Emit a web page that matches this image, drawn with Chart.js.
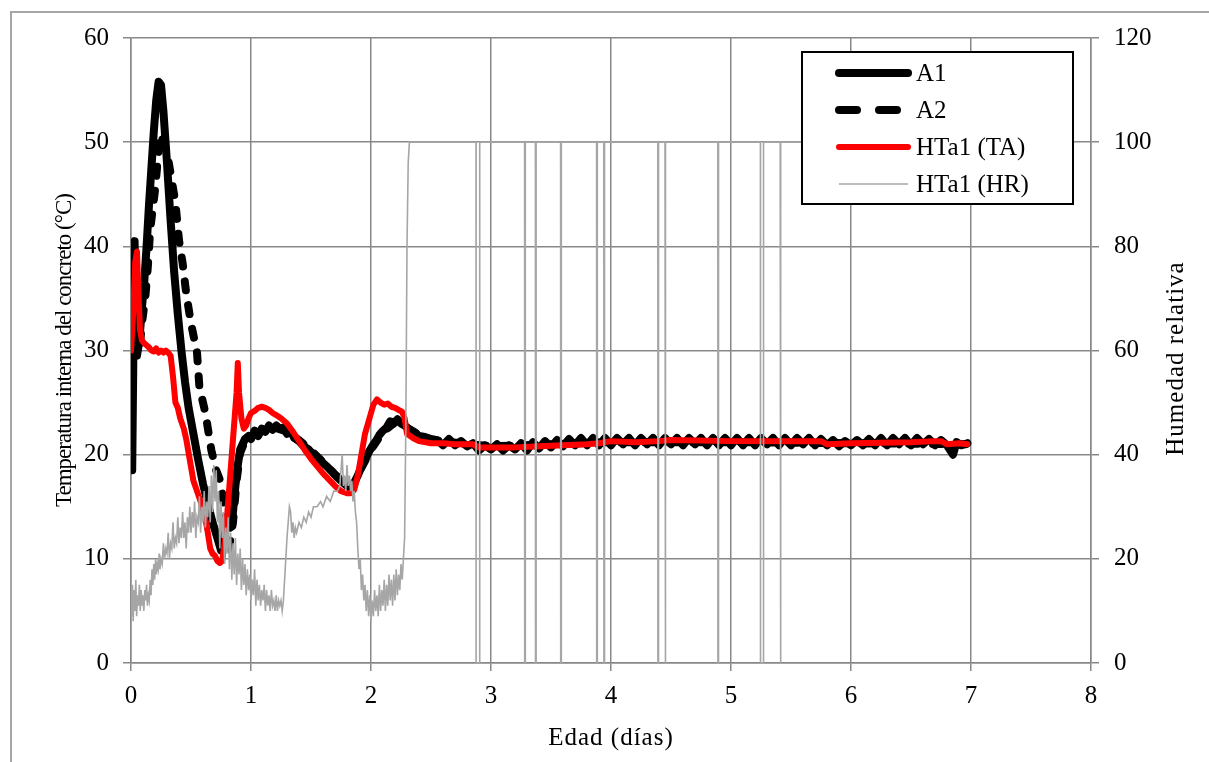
<!DOCTYPE html>
<html>
<head>
<meta charset="utf-8">
<script src="https://cdn.jsdelivr.net/npm/chart.js@4"></script>
<style>
  html, body { margin: 0; padding: 0; background: #fff; }
  #wrap { position: relative; width: 1209px; height: 762px; }
</style>
</head>
<body>
<div id="wrap"><canvas id="chart"></canvas></div>
<script>
// ---- data ----
const xTicks = [0, 1, 2, 3, 4, 5, 6, 7, 8];
const tempTicks = [0, 10, 20, 30, 40, 50, 60];
const hrTicks = [0, 20, 40, 60, 80, 100, 120];

const seriesLabels = ['A1', 'A2', 'HTa1 (TA)', 'HTa1 (HR)'];
const xTitle = 'Edad (días)';
const yTitle = 'Temperatura interna del concreto (°C)';
const y2Title = 'Humedad relativa';

const a1Days = [0.01, 0.02, 0.03, 0.04, 0.05, 0.07, 0.09, 0.11, 0.13, 0.15, 0.17, 0.19, 0.21, 0.23, 0.25, 0.27, 0.30, 0.33, 0.36, 0.39, 0.42, 0.45, 0.48, 0.52, 0.56, 0.60, 0.64, 0.68, 0.72, 0.75, 0.77, 0.79, 0.81, 0.83, 0.85, 0.87, 0.89, 0.91, 0.93, 0.95, 0.98, 1.00, 1.03, 1.06, 1.09, 1.12, 1.15, 1.18, 1.21, 1.24, 1.27, 1.30, 1.33, 1.36, 1.40, 1.44, 1.48, 1.52, 1.56, 1.60, 1.64, 1.68, 1.72, 1.76, 1.80, 1.83, 1.86, 1.89, 1.92, 1.95, 1.98, 2.01, 2.04, 2.07, 2.10, 2.13, 2.16, 2.19, 2.22, 2.25, 2.28, 2.31, 2.34, 2.37, 2.40, 2.45, 2.50,
  2.55, 2.60, 2.65, 2.70, 2.75, 2.80, 2.85, 2.90, 2.95, 3.00, 3.05, 3.10, 3.15, 3.20, 3.25, 3.30, 3.35, 3.40, 3.45, 3.50, 3.55, 3.60, 3.65, 3.70, 3.75, 3.80, 3.85, 3.90, 3.95, 4.00, 4.05, 4.10, 4.15, 4.20, 4.25, 4.30, 4.35, 4.40, 4.45, 4.50, 4.55, 4.60, 4.65, 4.70, 4.75, 4.80, 4.85, 4.90, 4.95, 5.00, 5.05, 5.10, 5.15, 5.20, 5.25, 5.30, 5.35, 5.40, 5.45, 5.50, 5.55, 5.60, 5.65, 5.70, 5.75, 5.80, 5.85, 5.90, 5.95, 6.00, 6.05, 6.10, 6.15, 6.20, 6.25, 6.30, 6.35, 6.40, 6.45, 6.50, 6.55, 6.60, 6.65, 6.70, 6.75, 6.80, 6.85, 6.88, 6.92, 6.97];
const a1Temp = [18.5, 30, 40.5, 32, 29.5, 31, 34, 36.5, 40, 44, 47.5, 51, 54, 55.8, 55.5, 53, 48, 42.5, 37.5, 33.5, 30, 27, 24.5, 22, 19.5, 17.2, 15.3, 13.5, 12, 10.8, 11.5, 13, 14, 13, 14.5, 17, 19, 20.5, 21, 21.5, 21.8, 21.5, 22.3, 21.8, 22.5, 22.2, 22.8, 22.4, 22.8, 22.5, 22.6, 22.0, 22.3, 21.6, 21.3, 20.8, 20.5, 20.0, 19.6, 19.2, 18.8, 18.3, 17.8, 17.4, 17.0, 16.7, 17.3, 18.0, 18.8, 19.5, 20.2, 20.8, 21.3, 21.9, 22.3, 22.6, 23.2, 23.0, 23.4, 23.0, 22.8, 22.5, 22.3, 22.0, 21.8, 21.7, 21.5,
  21.4, 20.9, 21.5, 20.9, 21.3, 20.8, 21.1, 20.4, 20.9, 20.5, 21.0, 20.4, 20.9, 20.5, 21.1, 20.4, 21.2, 20.6, 21.3, 20.7, 21.4, 20.8, 21.5, 20.9, 21.6, 20.9, 21.6, 20.9, 21.6, 20.9, 21.6, 21.0, 21.6, 20.9, 21.6, 21.0, 21.6, 20.9, 21.6, 21.0, 21.6, 20.9, 21.6, 21.0, 21.6, 20.9, 21.6, 20.9, 21.6, 20.9, 21.6, 20.9, 21.6, 20.9, 21.6, 21.0, 21.6, 20.9, 21.6, 20.9, 21.6, 21.0, 21.6, 20.9, 21.5, 20.9, 21.4, 20.8, 21.3, 20.9, 21.4, 20.9, 21.5, 20.9, 21.6, 20.9, 21.6, 21.0, 21.6, 20.9, 21.6, 21.0, 21.5, 20.9, 21.4, 20.9, 20.0, 21.2, 20.9, 21.1];

const a2Days = [0.03, 0.05, 0.07, 0.09, 0.12, 0.14, 0.16, 0.18, 0.20, 0.23, 0.25, 0.27, 0.30, 0.33, 0.37, 0.40, 0.43, 0.46, 0.50, 0.55, 0.57, 0.62, 0.67, 0.71, 0.74, 0.77, 0.80, 0.82, 0.85, 0.88, 0.91, 0.95, 1.00, 1.10, 1.20, 1.30, 1.40, 1.50, 1.60, 1.70, 1.80, 1.85, 1.90, 2.00, 2.10, 2.20, 2.30, 2.40, 2.50, 3.00, 3.50, 4.00, 5.00, 6.00, 6.97];
const a2Temp = [29.5, 30.5, 30, 32.5, 35.2, 38, 41.6, 43.5, 45.4, 49.2, 50.8, 50, 49, 47, 44.2, 40.6, 38.4, 35.5, 32.6, 29.8, 26.5, 24, 20.4, 18.5, 17.6, 15.6, 11.8, 11.3, 13.5, 17.5, 20.2, 21.3, 21.8, 22.4, 22.6, 22.2, 21.4, 20.4, 19.3, 18.1, 17.1, 16.9, 18.3, 20.5, 22.2, 23.1, 22.6, 21.9, 21.4, 20.8, 21.0, 21.2, 21.2, 21.1, 21.0];

const taDays = [0.00, 0.02, 0.035, 0.05, 0.06, 0.075, 0.09, 0.11, 0.13, 0.15, 0.17, 0.19, 0.21, 0.23, 0.25, 0.27, 0.29, 0.31, 0.33, 0.35, 0.37, 0.39, 0.41, 0.44, 0.46, 0.49, 0.52, 0.55, 0.58, 0.61, 0.63, 0.64, 0.66, 0.68, 0.70, 0.72, 0.74, 0.76, 0.78, 0.80, 0.82, 0.84, 0.86, 0.88, 0.89, 0.90, 0.92, 0.94, 0.96, 0.98, 1.00, 1.03, 1.06, 1.09, 1.12, 1.15, 1.18, 1.21, 1.25, 1.30, 1.35, 1.40, 1.45, 1.50, 1.55, 1.60, 1.65, 1.70, 1.75, 1.80, 1.83, 1.86, 1.89, 1.92, 1.95, 1.98, 2.00, 2.02, 2.05, 2.08, 2.11, 2.14, 2.17, 2.20, 2.23, 2.26, 2.28, 2.30, 2.35, 2.40, 2.50, 2.60, 2.70, 2.80, 2.85, 2.90, 3.00, 3.20, 3.40, 3.60, 3.80, 3.90, 4.00, 4.20, 4.40, 4.50, 5.00, 5.60, 5.70, 5.75, 5.80, 6.00, 6.50, 6.70, 6.75, 6.80, 6.90, 6.97];
const taTemp = [30, 34, 38.5, 39.5, 36, 32, 31, 30.7, 30.5, 30.3, 30.0, 29.9, 30.2, 29.8, 30.0, 29.8, 30.0, 29.8, 29.5, 27.5, 25, 24.5, 23.5, 22.5, 21.5, 19.5, 17.5, 16.5, 15.5, 14.2, 13.2, 12.5, 11, 10.5, 10.3, 9.8, 9.6, 9.8, 11.5, 14, 17, 20, 23, 26, 28.8, 26, 23.5, 22.5, 22.8, 23.5, 24.0, 24.2, 24.5, 24.6, 24.5, 24.3, 24.0, 23.8, 23.5, 23.0, 22.2, 21.3, 20.4, 19.6, 18.9, 18.2, 17.6, 17.0, 16.5, 16.3, 16.3, 16.6, 18.0, 20.0, 22.0, 23.2, 24.0, 24.8, 25.3, 25.0, 24.8, 24.9, 24.6, 24.5, 24.3, 24.1, 23.5, 22.0, 21.6, 21.3, 21.1, 21.1, 21.0, 21.0, 21.0, 20.7, 20.7, 20.7, 20.8, 20.9, 21.0, 21.1, 21.3, 21.2, 21.3, 21.4, 21.3, 21.3, 21.3, 21.3, 21.0, 21.1, 21.2, 21.3, 21.3, 21.0, 21.1, 21.0, 21.1];

const hrDays = [0.005, 0.012, 0.018, 0.025, 0.032, 0.04, 0.047, 0.055, 0.062, 0.07, 0.077, 0.085, 0.092, 0.10, 0.107, 0.115, 0.122, 0.13, 0.137, 0.145, 0.152, 0.16, 0.167, 0.175, 0.182, 0.19, 0.197, 0.205, 0.212, 0.22, 0.227, 0.235, 0.242, 0.25,
  0.26, 0.27, 0.28, 0.29, 0.30, 0.31, 0.32, 0.33, 0.34, 0.35, 0.36, 0.37, 0.38, 0.39, 0.40, 0.41, 0.42, 0.43, 0.44, 0.45, 0.46, 0.47, 0.48, 0.49, 0.50, 0.51, 0.52, 0.53, 0.54, 0.55, 0.56, 0.57, 0.58, 0.59, 0.60, 0.61, 0.62, 0.63, 0.64, 0.65, 0.66, 0.67, 0.68, 0.69, 0.70, 0.71, 0.72, 0.73, 0.74, 0.75, 0.76, 0.77, 0.78, 0.79, 0.80, 0.81, 0.82, 0.83, 0.84, 0.85, 0.86, 0.87, 0.88, 0.89, 0.90, 0.91, 0.92, 0.93, 0.94, 0.95, 0.96, 0.97, 0.98, 0.99,
  1.00, 1.01, 1.02, 1.03, 1.04, 1.05, 1.06, 1.07, 1.08, 1.09, 1.10, 1.11, 1.12, 1.13, 1.14, 1.15, 1.16, 1.17, 1.18, 1.19, 1.20, 1.21, 1.22, 1.23, 1.24, 1.25, 1.26, 1.27, 1.28, 1.29, 1.30, 1.31, 1.32, 1.33, 1.34, 1.35, 1.36, 1.37, 1.38, 1.40, 1.42, 1.44, 1.46, 1.48, 1.50, 1.52, 1.55, 1.58, 1.60, 1.63, 1.66, 1.69, 1.72, 1.74, 1.75, 1.76, 1.77, 1.78, 1.79, 1.80, 1.81, 1.82, 1.83, 1.84, 1.85, 1.86, 1.87, 1.88, 1.89,
  1.90, 1.91, 1.92, 1.93, 1.94, 1.95, 1.96, 1.97, 1.98, 1.99, 2.00, 2.01, 2.02, 2.03, 2.04, 2.05, 2.06, 2.07, 2.08, 2.09, 2.10, 2.11, 2.12, 2.13, 2.14, 2.15, 2.16, 2.17, 2.18, 2.19, 2.20, 2.21, 2.22, 2.23, 2.24, 2.25, 2.26, 2.27, 2.28, 2.29, 2.30, 2.31, 2.32,
  2.875, 2.876, 2.905, 2.906, 3.28, 3.281, 3.285, 3.286, 3.37, 3.371, 3.375, 3.376, 3.58, 3.581, 3.585, 3.586, 3.88, 3.881, 3.885, 3.886, 3.94, 3.941, 3.945, 3.946, 4.39, 4.391, 4.395, 4.396, 4.45, 4.451, 4.455, 4.456, 4.89, 4.891, 4.895, 4.896, 5.245, 5.246, 5.27, 5.271, 5.41, 5.411, 5.415, 5.416, 6.98];
const hrValues = [9, 15, 8, 14, 10, 16, 9, 13, 11, 15, 10, 14, 11, 13, 10, 14, 12, 15, 11, 13, 12, 16, 13, 18, 15, 19, 16, 20, 17, 19, 18, 21, 18, 20,
  19, 23, 20, 22, 21, 25, 20, 23, 22, 27, 22, 24, 23, 28, 23, 26, 24, 29, 24, 27, 22, 28, 25, 30, 25, 29, 26, 31, 24, 28, 27, 32, 25, 30, 27, 33, 26, 31, 28, 34, 27, 36, 29, 38, 31, 37, 27, 33, 22, 31, 24, 29, 19, 26, 21, 28, 18, 25, 16, 23, 17, 24, 15, 21, 17, 22, 14, 20, 15, 19, 13, 18, 14, 17,
  12, 16, 13, 18, 11, 16, 12, 15, 11, 14, 12, 15, 10, 14, 11, 13, 10, 14, 11, 12, 10, 13, 10, 12, 11, 12, 10, 12, 16, 20, 24, 27, 30, 29, 25, 27, 24, 26, 25, 27, 26, 28, 27, 29, 28, 30, 30, 31, 30, 32, 31, 33, 33, 34, 37, 40, 34, 36, 33, 38, 34, 36, 33, 35, 31, 33, 29, 27, 22,
  18, 20, 14, 17, 12, 15, 10, 14, 9, 13, 8, 12, 9, 14, 10, 13, 9, 15, 10, 14, 11, 16, 10, 15, 11, 17, 12, 16, 11, 17, 12, 18, 13, 17, 14, 19, 16, 20, 24, 45, 80, 96, 100,
  100, 0, 0, 100, 100, 0, 0, 100, 100, 0, 0, 100, 100, 0, 0, 100, 100, 0, 0, 100, 100, 0, 0, 100, 100, 0, 0, 100, 100, 0, 0, 100, 100, 0, 0, 100, 100, 0, 0, 100, 100, 0, 0, 100, 100];

const pts = (xs, ys) => xs.map((x, i) => ({ x: x, y: ys[i] }));

const serif = "'Liberation Serif', 'Times New Roman', serif";
const gridGray = '#888888';

// legend box, axis titles and outer frame
const decorations = {
    id: 'decorations',
    beforeDraw(chart) {
        const ctx = chart.ctx;
        ctx.save();
        ctx.fillStyle = '#ffffff';
        ctx.fillRect(0, 0, chart.width, chart.height);
        ctx.strokeStyle = '#a6a6a6';
        ctx.lineWidth = 2;
        ctx.strokeRect(11, 12, chart.width + 10, chart.height + 10);
        ctx.restore();
    },
    afterDraw(chart) {
        const ctx = chart.ctx;
        const area = chart.chartArea;
        ctx.save();
        ctx.fillStyle = '#000';
        ctx.textAlign = 'center';
        ctx.textBaseline = 'middle';

        const midY = (area.top + area.bottom) / 2;
        ctx.save();
        ctx.font = '23px ' + serif;
        ctx.letterSpacing = '-1px';
        ctx.translate(65, midY);
        ctx.rotate(-Math.PI / 2);
        ctx.fillText(yTitle, 0, 0);
        ctx.restore();

        ctx.font = '25px ' + serif;
        ctx.letterSpacing = '1px';
        ctx.save();
        ctx.translate(1176, midY + 8);
        ctx.rotate(-Math.PI / 2);
        ctx.fillText(y2Title, 0, 0);
        ctx.restore();

        ctx.fillText(xTitle, (area.left + area.right) / 2, 738);
        ctx.letterSpacing = '0px';

        // legend
        const bx = area.right - 289, by = area.top + 14, bw = 271, bh = 152;
        ctx.fillStyle = '#fff';
        ctx.fillRect(bx, by, bw, bh);
        ctx.strokeStyle = '#000';
        ctx.lineWidth = 2;
        ctx.strokeRect(bx, by, bw, bh);
        ctx.textAlign = 'left';
        chart.data.datasets.forEach((ds, i) => {
            const y = by + 21 + i * 37;
            ctx.save();
            ctx.strokeStyle = ds.borderColor;
            ctx.lineWidth = ds.borderWidth;
            ctx.lineCap = ds.borderWidth > 2 ? 'round' : 'butt';
            ctx.setLineDash(ds.borderDash && ds.borderDash.length ? [18, 22] : []);
            ctx.beginPath();
            ctx.moveTo(bx + 37, y);
            ctx.lineTo(bx + 106, y);
            ctx.stroke();
            ctx.restore();
            ctx.fillStyle = '#000';
            ctx.fillText(ds.label, bx + 114, y + 1);
        });
        ctx.restore();
    }
};

new Chart(document.getElementById('chart'), {
    type: 'line',
    data: {
        datasets: [
            {
                label: seriesLabels[0],
                data: pts(a1Days, a1Temp),
                borderColor: '#000000',
                borderWidth: 8,
                borderJoinStyle: 'round',
                borderCapStyle: 'round',
                yAxisID: 'y',
                order: 3
            },
            {
                label: seriesLabels[1],
                data: pts(a2Days, a2Temp),
                borderColor: '#000000',
                borderWidth: 8,
                borderDash: [9, 15],
                borderCapStyle: 'round',
                yAxisID: 'y',
                order: 2
            },
            {
                label: seriesLabels[2],
                data: pts(taDays, taTemp),
                borderColor: '#ff0000',
                borderWidth: 6,
                borderJoinStyle: 'round',
                borderCapStyle: 'round',
                yAxisID: 'y',
                order: 1
            },
            {
                label: seriesLabels[3],
                data: pts(hrDays, hrValues),
                borderColor: '#a6a6a6',
                borderWidth: 1.6,
                yAxisID: 'y2',
                order: 0
            }
        ]
    },
    options: {
        responsive: true,
        maintainAspectRatio: false,
        animation: false,
        layout: { padding: { top: 38, left: 0, right: 0, bottom: 0 } },
        elements: { point: { radius: 0 }, line: { tension: 0 } },
        plugins: {
            legend: { display: false },
            tooltip: { enabled: false }
        },
        scales: {
            x: {
                type: 'linear',
                min: 0,
                max: 8,
                afterBuildTicks: (s) => { s.ticks = xTicks.map(v => ({ value: v })); },
                afterFit: (s) => { s.height = 99; },
                grid: { color: gridGray, lineWidth: 1.5, tickLength: 8 },
                border: { color: gridGray, width: 1.5 },
                ticks: { color: '#000', padding: 10, font: { family: serif, size: 25 } }
            },
            y: {
                position: 'left',
                min: 0,
                max: 60,
                afterBuildTicks: (s) => { s.ticks = tempTicks.map(v => ({ value: v })); },
                afterFit: (s) => { s.width = 131; },
                grid: { color: gridGray, lineWidth: 1.5, tickLength: 8 },
                border: { color: gridGray, width: 1.5 },
                ticks: { color: '#000', padding: 14, font: { family: serif, size: 25 } }
            },
            y2: {
                position: 'right',
                min: 0,
                max: 120,
                afterBuildTicks: (s) => { s.ticks = hrTicks.map(v => ({ value: v })); },
                afterFit: (s) => { s.width = 118; },
                grid: { drawOnChartArea: false, color: gridGray, lineWidth: 1.5, tickLength: 8 },
                border: { color: gridGray, width: 1.5 },
                ticks: { color: '#000', padding: 15, font: { family: serif, size: 25 } }
            }
        }
    },
    plugins: [decorations]
});
</script>
</body>
</html>
